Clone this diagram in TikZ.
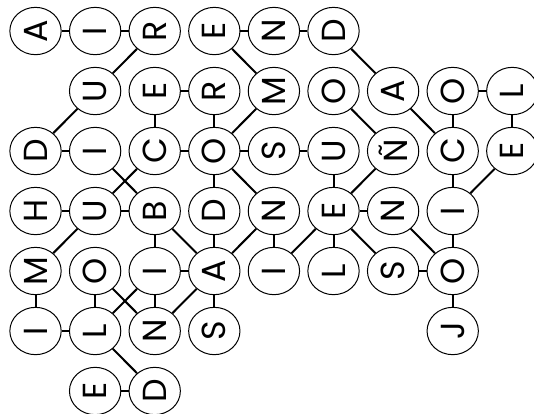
\documentclass[tikz,border=0pt]{standalone}
\usepackage{fontspec}
\setmainfont{Poppins}
\usetikzlibrary{
  shapes.geometric,
}

\begin{document}
\begin{tikzpicture}[
  x=44.7pt, y=-45pt,
  font=\fontsize{25}{30}\selectfont,
  letter/.style={draw, ellipse, rotate=90, inner sep=0pt,
    minimum width=35.5pt, minimum height=38.5pt, line width=0.75pt},
  link/.style={line width=1.5pt},
]
  \useasboundingbox (-0.596,-0.517) rectangle (8.364,6.383);

  % Row 0
  \node[letter] (n00) at (0,0) {A};
  \node[letter] (n01) at (1,0) {I};
  \node[letter] (n02) at (2,0) {R};
  \node[letter] (n03) at (3,0) {E};
  \node[letter] (n04) at (4,0) {N};
  \node[letter] (n05) at (5,0) {D};

  % Row 1
  \node[letter] (n11) at (1,1) {U};
  \node[letter] (n12) at (2,1) {E};
  \node[letter] (n13) at (3,1) {R};
  \node[letter] (n14) at (4,1) {M};
  \node[letter] (n15) at (5,1) {O};
  \node[letter] (n16) at (6,1) {A};
  \node[letter] (n17) at (7,1) {O};
  \node[letter] (n18) at (8,1) {L};

  % Row 2
  \node[letter] (n20) at (0,2) {D};
  \node[letter] (n21) at (1,2) {I};
  \node[letter] (n22) at (2,2) {C};
  \node[letter] (n23) at (3,2) {O};
  \node[letter] (n24) at (4,2) {S};
  \node[letter] (n25) at (5,2) {U};
  \node[letter] (n26) at (6,2) {Ñ};
  \node[letter] (n27) at (7,2) {C};
  \node[letter] (n28) at (8,2) {E};

  % Row 3
  \node[letter] (n30) at (0,3) {H};
  \node[letter] (n31) at (1,3) {U};
  \node[letter] (n32) at (2,3) {B};
  \node[letter] (n33) at (3,3) {D};
  \node[letter] (n34) at (4,3) {N};
  \node[letter] (n35) at (5,3) {E};
  \node[letter] (n36) at (6,3) {N};
  \node[letter] (n37) at (7,3) {I};

  % Row 4
  \node[letter] (n40) at (0,4) {M};
  \node[letter] (n41) at (1,4) {O};
  \node[letter] (n42) at (2,4) {I};
  \node[letter] (n43) at (3,4) {A};
  \node[letter] (n44) at (4,4) {I};
  \node[letter] (n45) at (5,4) {L};
  \node[letter] (n46) at (6,4) {S};
  \node[letter] (n47) at (7,4) {O};

  % Row 5
  \node[letter] (n50) at (0,5) {I};
  \node[letter] (n51) at (1,5) {L};
  \node[letter] (n52) at (2,5) {N};
  \node[letter] (n53) at (3,5) {S};
  \node[letter] (n57) at (7,5) {J};

  % Row 6
  \node[letter] (n61) at (1,6) {E};
  \node[letter] (n62) at (2,6) {D};

  % Links within a row
  \draw[link] (n00) -- (n01);
  \draw[link] (n01) -- (n02);
  \draw[link] (n03) -- (n04);
  \draw[link] (n04) -- (n05);
  \draw[link] (n12) -- (n13);
  \draw[link] (n17) -- (n18);
  \draw[link] (n20) -- (n21);
  \draw[link] (n22) -- (n23);
  \draw[link] (n23) -- (n24);
  \draw[link] (n24) -- (n25);
  \draw[link] (n30) -- (n31);
  \draw[link] (n31) -- (n32);
  \draw[link] (n35) -- (n36);
  \draw[link] (n42) -- (n43);
  \draw[link] (n46) -- (n47);
  \draw[link] (n50) -- (n51);
  \draw[link] (n61) -- (n62);

  % Links between rows
  \draw[link] (n02) -- (n11);
  \draw[link] (n03) -- (n14);
  \draw[link] (n05) -- (n16);
  \draw[link] (n11) -- (n20);
  \draw[link] (n12) -- (n22);
  \draw[link] (n13) -- (n23);
  \draw[link] (n14) -- (n23);
  \draw[link] (n15) -- (n26);
  \draw[link] (n16) -- (n27);
  \draw[link] (n17) -- (n27);
  \draw[link] (n18) -- (n28);
  \draw[link] (n21) -- (n32);
  \draw[link] (n22) -- (n31);
  \draw[link] (n23) -- (n33);
  \draw[link] (n23) -- (n34);
  \draw[link] (n25) -- (n35);
  \draw[link] (n26) -- (n35);
  \draw[link] (n27) -- (n37);
  \draw[link] (n28) -- (n37);
  \draw[link] (n31) -- (n40);
  \draw[link] (n32) -- (n42);
  \draw[link] (n32) -- (n43);
  \draw[link] (n33) -- (n43);
  \draw[link] (n34) -- (n43);
  \draw[link] (n34) -- (n44);
  \draw[link] (n35) -- (n44);
  \draw[link] (n35) -- (n45);
  \draw[link] (n35) -- (n46);
  \draw[link] (n36) -- (n47);
  \draw[link] (n37) -- (n47);
  \draw[link] (n40) -- (n50);
  \draw[link] (n41) -- (n51);
  \draw[link] (n41) -- (n52);
  \draw[link] (n42) -- (n51);
  \draw[link] (n42) -- (n52);
  \draw[link] (n43) -- (n52);
  \draw[link] (n43) -- (n53);
  \draw[link] (n47) -- (n57);
  \draw[link] (n51) -- (n62);
\end{tikzpicture}
\end{document}
